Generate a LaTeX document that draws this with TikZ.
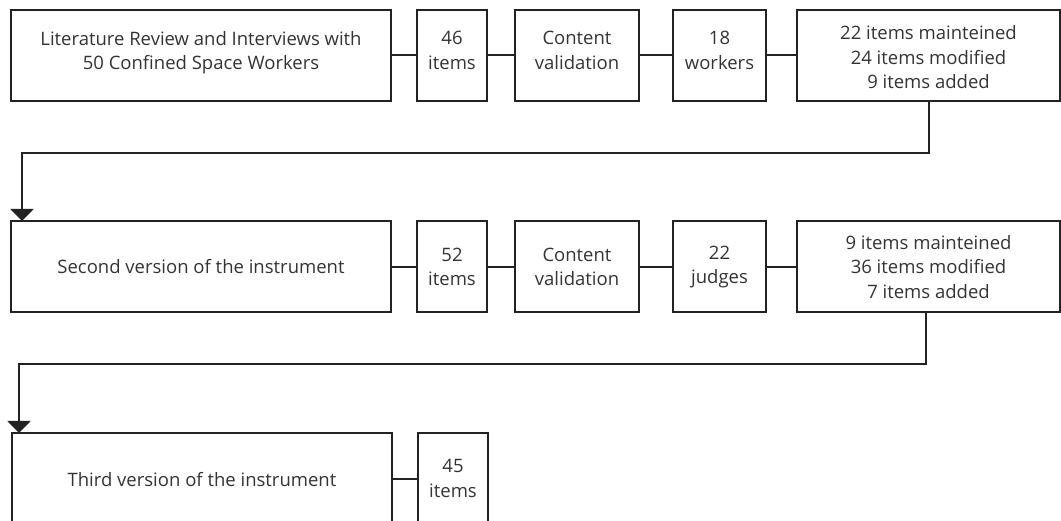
\documentclass[tikz,border=0pt]{standalone}
\usepackage{fontspec}
\setmainfont{Open Sans}
\usetikzlibrary{arrows.meta}
\definecolor{ln}{HTML}{222222}
\definecolor{tx}{HTML}{333333}
\tikzset{
  bx/.style={draw=ln, line width=2pt, rectangle, minimum height=91pt, inner sep=0pt, align=center, text=tx, font=\fontsize{18.5}{24.5}\selectfont},
  ln/.style={draw=ln, line width=2pt},
  arr/.style={ln, -{Triangle[width=23pt,length=12pt]}},
}
\begin{document}
\begin{tikzpicture}[x=1pt,y=-1pt]
\useasboundingbox (0,0) rectangle (1061,521);
\clip (0,0) rectangle (1061,521);
% row 1
\node[bx, minimum width=380pt] (A1) at (201,55.5) {Literature Review and Interviews with\\50 Confined Space Workers\\[-14pt]\mbox{}};
\node[bx, minimum width=70pt] (B1) at (452,55.5) {46\\items\\[-14pt]\mbox{}};
\node[bx, minimum width=124pt] (C1) at (577,55.5) {Content\\validation\\[-14pt]\mbox{}};
\node[bx, minimum width=93pt] (D1) at (719.5,55.5) {18\\workers\\[-14pt]\mbox{}};
\node[bx, minimum width=263pt] (E1) at (928.5,55.5) {\mbox{}\\[-6.5pt]22 items mainteined\\24 items modified\\9 items added};
% row 2
\node[bx, minimum width=380pt] (A2) at (201,267) {Second version of the instrument};
\node[bx, minimum width=70pt] (B2) at (452,267) {52\\items};
\node[bx, minimum width=124pt] (C2) at (577,267) {Content\\validation};
\node[bx, minimum width=93pt] (D2) at (719.5,267) {22\\judges};
\node[bx, minimum width=263pt] (E2) at (928.5,267) {9 items mainteined\\36 items modified\\7 items added};
% row 3
\node[bx, minimum width=380pt] (A3) at (202,478.5) {\raisebox{-8.5pt}[0pt][0pt]{Third version of the instrument}};
\node[bx, minimum width=70pt] (B3) at (453,478.5) {45\\items};
% connectors
\foreach \a/\b in {A1/B1,B1/C1,C1/D1,D1/E1,A2/B2,B2/C2,C2/D2,D2/E2,A3/B3}
  \draw[ln] (\a.east) -- (\b.west);
\coordinate (m1) at (0,153);
\coordinate (t2) at (22,221);
\draw[arr] (E1.south) -- (E1.south |- m1) -| (t2);
\coordinate (m2) at (926,364);
\coordinate (t3) at (19,433);
\draw[arr] (E2.south -| m2) -- (m2) -| (t3);
\end{tikzpicture}
\end{document}
